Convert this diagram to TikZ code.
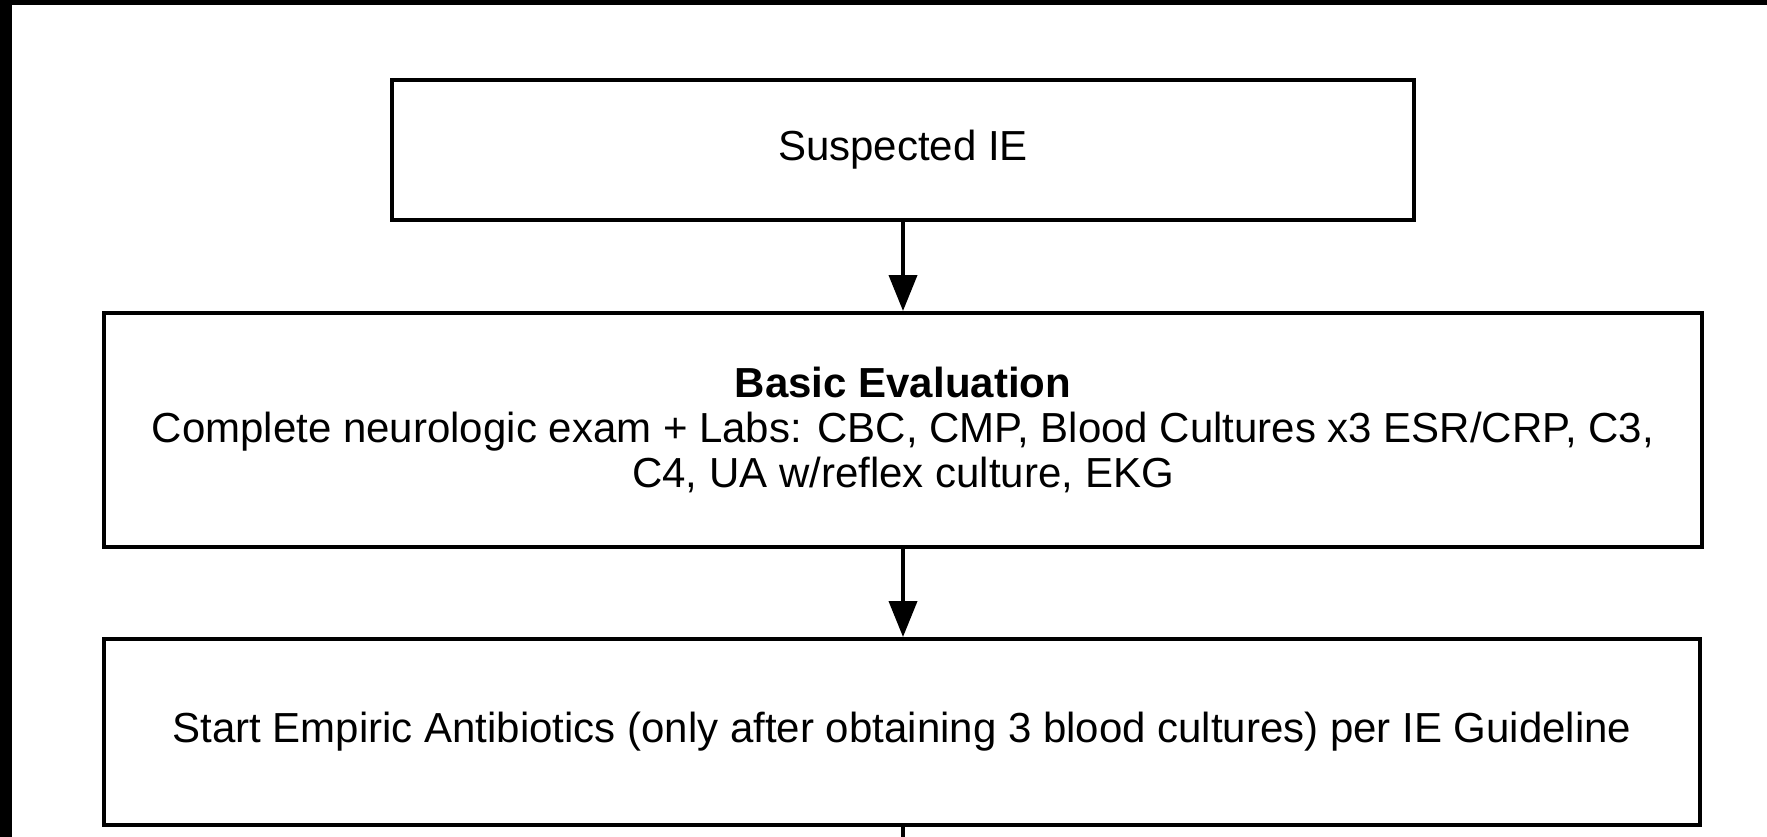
\documentclass[tikz,border=0pt]{standalone}
\usepackage{fontspec}
\setmainfont{Liberation Sans}
\usetikzlibrary{arrows.meta}

\tikzset{
  flowbox/.style={draw=black, line width=4pt, rectangle, align=center,
    inner sep=0pt, font=\fontsize{42}{45}\selectfont},
  flowarrow/.style={line width=4pt, -{Triangle[width=28pt,length=36pt]}}
}

\begin{document}
\begin{tikzpicture}[x=1pt,y=-1pt]
  \useasboundingbox (0,0) rectangle (1767,837);
  \fill[white] (0,0) rectangle (1767,837);
  % frame edges
  \fill[black] (0,0) rectangle (1767,5);
  \fill[black] (0,0) rectangle (12,837);

  \node[flowbox, minimum width=1022pt, minimum height=140pt] (suspect) at (903,150) {Suspected IE};
  \node[flowbox, minimum width=1598pt, minimum height=234pt] (basic) at (903,430)
    {\textbf{Basic Evaluation}\\
     Complete neurologic exam + Labs: CBC, CMP, Blood Cultures x3 ESR/CRP, C3,\\
     C4, UA w/reflex culture, EKG};
  \node[flowbox, minimum width=1596pt, minimum height=186pt] (empiric) at (902,732)
    {Start Empiric Antibiotics (only after obtaining 3 blood cultures) per IE Guideline};
  \coordinate (next) at (903,837);

  \draw[flowarrow] (suspect) -- (basic);
  \draw[flowarrow] (basic.south -| suspect.south) -- (empiric.north -| suspect.south);
  \draw[line width=4pt] (empiric.south -| suspect.south) -- (next);
\end{tikzpicture}
\end{document}
